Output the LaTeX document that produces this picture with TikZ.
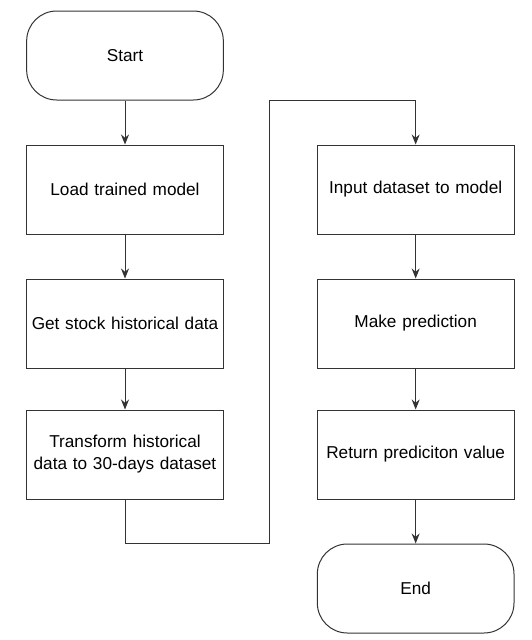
\documentclass[tikz,border=0pt]{standalone}
\usepackage{fontspec}
\setmainfont{Liberation Sans}
\usepackage{tikz}
\usetikzlibrary{arrows.meta,positioning}
\definecolor{LineGray}{HTML}{333333}

\begin{document}
\begin{tikzpicture}[
  node distance=44pt and 93pt,
  box/.style={draw=LineGray,line width=1pt,minimum width=194pt,minimum height=89pt,text width=190pt,align=center,font=\fontsize{17.2}{22}\selectfont},
  terminal/.style={box,rounded corners=30pt},
  arrow/.style={-{Stealth[length=10pt,width=8pt]},line width=1pt,color=LineGray}
]
\useasboundingbox (0,0) rectangle (532pt,-640pt);
\node[terminal] (start) at (125pt,-55.5pt) {Start};
\node[box,below=of start] (load) {Load trained model};
\node[box,below=of load] (history) {Get stock historical data};
\node[box,below=41pt of history] (transform) {Transform historical\\data to 30-days dataset};
\node[box,right=of load] (input) {Input dataset to model};
\node[box,below=of input] (predict) {Make prediction};
\node[box,below=41pt of predict] (result) {Return prediciton value};
\node[terminal,below=of result] (finish) {End};
\coordinate (bendlow) at (269pt,-543pt);
\coordinate (bendhigh) at (269pt,-100pt);
\draw[arrow] (start) -- (load);
\draw[arrow] (load) -- (history);
\draw[arrow] (history) -- (transform);
\draw[arrow] (transform.south) |- (bendlow) -- (bendhigh) -| (input.north);
\draw[arrow] (input) -- (predict);
\draw[arrow] (predict) -- (result);
\draw[arrow] (result) -- (finish);
\end{tikzpicture}
\end{document}
